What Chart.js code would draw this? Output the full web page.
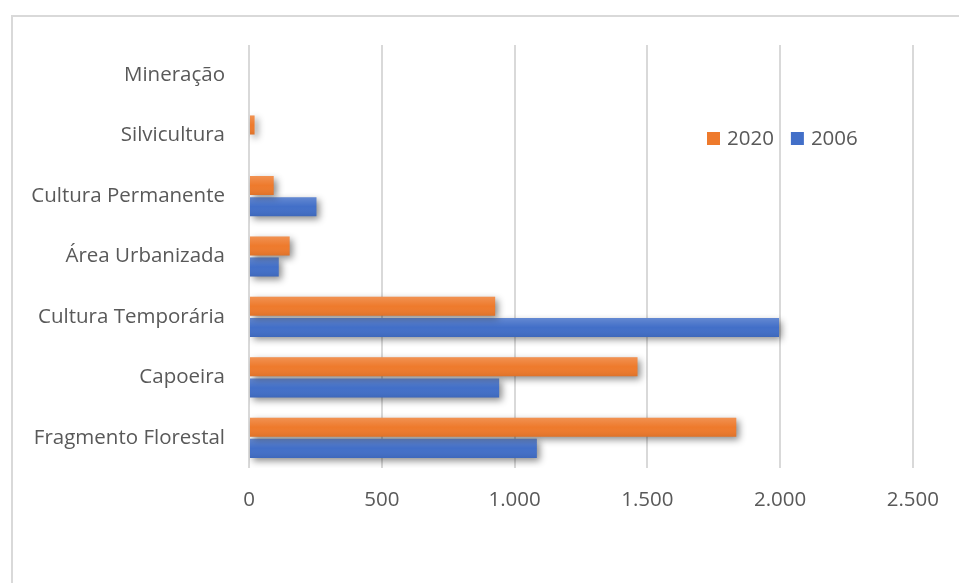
<!DOCTYPE html>
<html>
<head>
<meta charset="utf-8">
<script src="https://cdn.jsdelivr.net/npm/chart.js@4.4.1/dist/chart.umd.min.js"></script>
<style>
  body { margin: 0; background: #ffffff; }
  #wrap { width: 959px; height: 583px; }
</style>
</head>
<body>
<div id="wrap"><canvas id="barchart" width="959" height="583"></canvas></div>
<script>
// uso do solo, area por classe
var categories = ["Mineração", "Silvicultura", "Cultura Permanente", "Área Urbanizada", "Cultura Temporária", "Capoeira", "Fragmento Florestal"];
var values_2020 = [0, 21, 93, 153, 927, 1463, 1835];
var values_2006 = [0, 0, 254, 112, 1996, 942, 1084];
var series_names = ["2020", "2006"];
var x_min = 0;
var x_max = 2500;
var x_step = 500;

var font_name = "'Open Sans', sans-serif";
var font_size = 20.5;
var text_color = "#595959";
var grid_color = "#d9d9d9";

function format_number(v) {
  return String(v).replace(/\B(?=(\d{3})+(?!\d))/g, ".");
}

// moldura cinza do grafico
var frame_plugin = {
  id: "frame",
  beforeDraw: function (chart) {
    var ctx = chart.ctx;
    ctx.save();
    ctx.strokeStyle = grid_color;
    ctx.lineWidth = 2;
    ctx.strokeRect(12, 16, 1000, 1000);
    ctx.restore();
  }
};

// sombra nas barras + brilho em degrade por cima
var shadow_plugin = {
  id: "bar_shadow",
  beforeDatasetsDraw: function (chart) {
    var ctx = chart.ctx;
    ctx.save();
    ctx.shadowColor = "rgba(0, 0, 0, 0.45)";
    ctx.shadowBlur = 7;
    ctx.shadowOffsetX = 3;
    ctx.shadowOffsetY = 3;
  },
  afterDatasetsDraw: function (chart) {
    var ctx = chart.ctx;
    ctx.restore();
    ctx.save();
    chart.data.datasets.forEach(function (ds, i) {
      var meta = chart.getDatasetMeta(i);
      meta.data.forEach(function (bar) {
        var p = bar.getProps(["x", "y", "base", "height"], true);
        var w = p.x - p.base;
        if (w <= 0) return;
        var top = p.y - p.height / 2;
        var grad = ctx.createLinearGradient(0, top, 0, top + p.height);
        grad.addColorStop(0, "rgba(255, 255, 255, 0.18)");
        grad.addColorStop(0.5, "rgba(255, 255, 255, 0)");
        grad.addColorStop(1, "rgba(0, 0, 0, 0.07)");
        ctx.fillStyle = grad;
        ctx.fillRect(p.base, top, w, p.height);
      });
    });
    ctx.restore();
  }
};

// legenda dentro da area do grafico
var legend_plugin = {
  id: "inner_legend",
  afterDraw: function (chart) {
    var ctx = chart.ctx;
    var x = 707;
    var y = 139;
    ctx.save();
    ctx.font = font_size + "px " + font_name;
    ctx.textBaseline = "middle";
    for (let i = 0; i < chart.data.datasets.length; i++) {
      var ds = chart.data.datasets[i];
      ctx.fillStyle = ds.backgroundColor;
      ctx.fillRect(x, y - 7, 13, 13);
      ctx.fillStyle = text_color;
      ctx.fillText(ds.label, x + 20, y);
      x += 20 + ctx.measureText(ds.label).width + 17;
    }
    ctx.restore();
  }
};

var chart1 = document.getElementById("barchart");
var myChart1 = new Chart(chart1, {
  type: "bar",
  data: {
    labels: categories,
    datasets: [
      {
        label: series_names[0],
        data: values_2020,
        backgroundColor: "#EE7A2C",
        categoryPercentage: 0.7,
        barPercentage: 0.9,
      },
      {
        label: series_names[1],
        data: values_2006,
        backgroundColor: "#426FC8",
        categoryPercentage: 0.7,
        barPercentage: 0.9,
      },
    ],
  },
  options: {
    indexAxis: "y",
    responsive: false,
    animation: false,
    devicePixelRatio: 1,
    layout: {
      padding: { left: 0, right: 44, top: 45, bottom: 0 },
    },
    plugins: {
      legend: { display: false },
      tooltip: { enabled: false },
    },
    scales: {
      x: {
        min: x_min,
        max: x_max,
        border: { display: false },
        grid: { color: grid_color, lineWidth: 2, drawTicks: false },
        ticks: {
          stepSize: x_step,
          padding: 20,
          color: text_color,
          font: { family: font_name, size: font_size },
          callback: function (value) {
            return format_number(value);
          },
        },
        afterFit: function (scale) {
          scale.height = 115;
        },
      },
      y: {
        border: { display: false },
        grid: { display: false, drawTicks: false },
        ticks: {
          padding: 24,
          color: text_color,
          font: { family: font_name, size: font_size },
        },
        afterFit: function (scale) {
          scale.width = 249;
        },
      },
    },
  },
  plugins: [frame_plugin, shadow_plugin, legend_plugin],
});
</script>
</body>
</html>
